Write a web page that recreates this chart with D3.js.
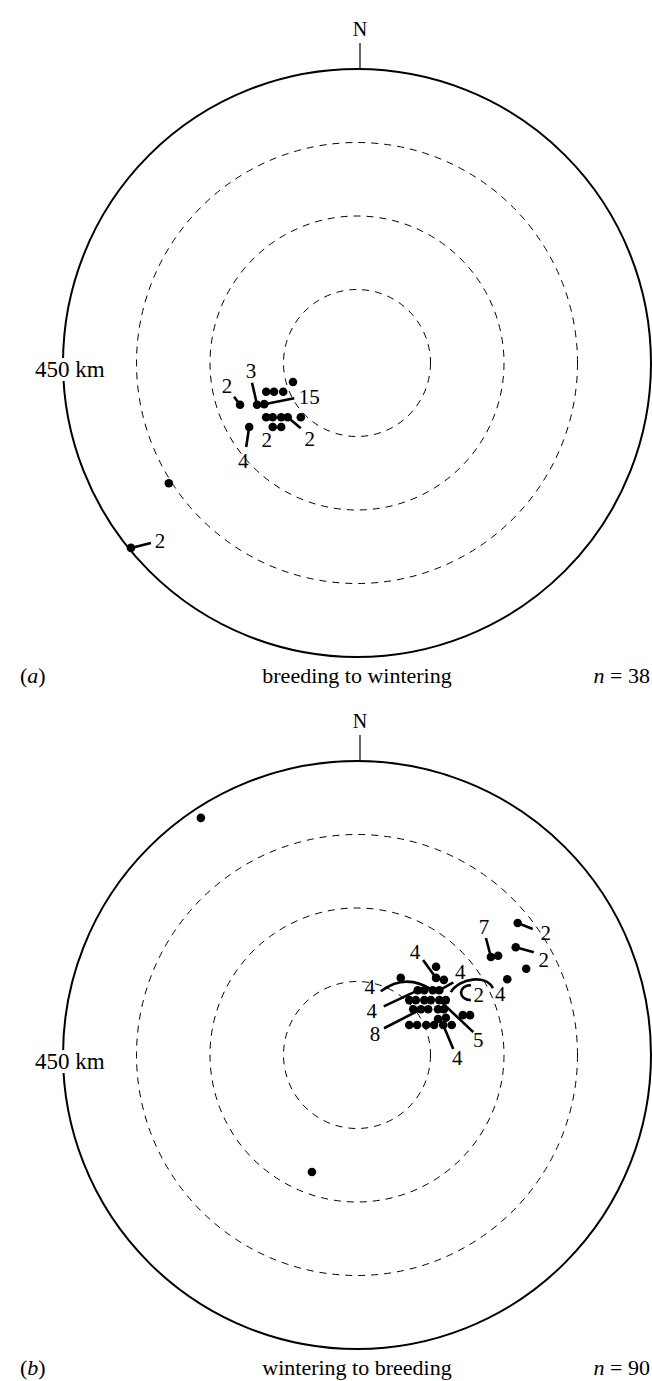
<!DOCTYPE html>
<html>
<head>
<meta charset="utf-8">
<script src="https://cdn.jsdelivr.net/npm/d3@7"></script>
<style>
  body { margin: 0; background: #fff; }
  svg text { font-family: "Liberation Serif", "DejaVu Serif", serif; fill: #000; }
</style>
</head>
<body>
<div id="chart"></div>
<script>
// radial distances (km) of the rings, outer ring is labelled
var ringKm = [112.5, 225, 337.5];
var outerKm = 450;

// (a) breeding to wintering : east / north displacement in km, count per dot
var eastA  = [-179, -153, -142, -139, -127, -113, -98, -139, -129, -116, -106, -86, -129, -116, -165, -288, -346];
var northA = [-64, -64, -63, -44, -44, -44, -29, -83, -83, -83, -83, -83, -98, -98, -98, -184, -283];
var countA = [2, 3, 15, 1, 1, 1, 1, 1, 1, 1, 2, 1, 2, 1, 4, 1, 2];

// (b) wintering to breeding
var eastB  = [-239, -69, 246, 243, 259, 230, 205, 216, 67, 121, 121, 133,
              93, 103, 116, 126,
              80, 90, 103, 113, 126, 136,
              86, 98, 109, 124, 133,
              162, 173, 124, 136,
              80, 92, 106, 118, 132, 145];
var northB = [363, -179, 202, 165, 132, 116, 150, 152, 118, 135, 118, 115,
              99, 99, 99, 99,
              84, 84, 84, 84, 84, 84,
              70, 70, 70, 70, 70,
              61, 61, 55, 57,
              46, 46, 46, 46, 46, 46];
var countB = [1, 1, 2, 2, 1, 4, 7, 1, 1, 1, 4, 1,
              4, 1, 4, 4,
              1, 1, 1, 1, 5, 2,
              1, 8, 1, 1, 1,
              1, 1, 1, 1,
              1, 1, 1, 1, 4, 1];

// label placement (pixel offsets from the dot) : [stickX, stickY, labelX, labelY]
var labelPosA = {
  0: [-6, -8, -13, -19], 1: [-5, -22, -6, -34], 2: [30, -6, 45, -7],
  10: [13, 11, 22, 22], 12: [0, 0, -6, 13], 14: [-3, 20, -6, 34], 16: [20, -5, 29, -7]
};
var labelPosB = {
  2: [15, 6, 28, 10], 3: [18, 5, 28, 13], 6: [-5, -19, -7, -30], 10: [-13, -18, -21, -26],
  15: [14, -8, 21, -18], 12: [-34, 16, -46, 21], 23: [-37, 19, -46, 25],
  20: [34, 32, 39, 40], 35: [10, 24, 14, 33], 5: [0, 0, -7, 15], 21: [0, 0, 33, -5], 14: [0, 0, -63, -3]
};

var W = 652, H = 1381, R = 294, cx = 357;

var svg = d3.select("#chart").append("svg")
  .attr("width", W).attr("height", H);

function panel(cy, east, north, counts, labelPos, letter, title, n, curved) {
  var x = d3.scaleLinear().domain([-outerKm, outerKm]).range([cx - R, cx + R]);
  var y = d3.scaleLinear().domain([-outerKm, outerKm]).range([cy + R, cy - R]);
  var r = function (km) { return x(km) - x(0); };

  var g = svg.append("g");

  g.selectAll(".ring").data(ringKm).enter().append("circle")
    .attr("class", "ring")
    .attr("cx", x(0)).attr("cy", y(0))
    .attr("r", function (d) { return r(d); })
    .attr("fill", "none").attr("stroke", "#000")
    .attr("stroke-width", 1).attr("stroke-dasharray", "7,6");

  g.append("circle")
    .attr("cx", x(0)).attr("cy", y(0)).attr("r", r(outerKm))
    .attr("fill", "none").attr("stroke", "#000").attr("stroke-width", 2);

  // north tick
  g.append("line")
    .attr("x1", x(0) + 3).attr("x2", x(0) + 3)
    .attr("y1", y(outerKm) - 26).attr("y2", y(outerKm))
    .attr("stroke", "#000").attr("stroke-width", 1.2);
  g.append("text")
    .attr("x", x(0) + 3).attr("y", y(outerKm) - 33)
    .attr("text-anchor", "middle").attr("font-size", 20).text("N");

  g.append("text")
    .attr("x", 35).attr("y", y(0) + 14)
    .attr("font-size", 23)
    .attr("stroke", "#fff").attr("stroke-width", 8).attr("paint-order", "stroke")
    .text(outerKm + " km");

  var pts = east.map(function (e, i) {
    return { px: x(e), py: y(north[i]), count: counts[i], i: i };
  });

  // sticks
  var lab = pts.filter(function (d) { return labelPos[d.i]; });
  g.selectAll(".stick").data(lab.filter(function (d) {
      var p = labelPos[d.i]; return p[0] || p[1];
    })).enter().append("line")
    .attr("x1", function (d) { return d.px; })
    .attr("y1", function (d) { return d.py; })
    .attr("x2", function (d) { return d.px + labelPos[d.i][0]; })
    .attr("y2", function (d) { return d.py + labelPos[d.i][1]; })
    .attr("stroke", "#000").attr("stroke-width", 2.6);

  if (curved) {
    var a = pts[14], b = pts[21];
    g.append("path")
      .attr("d", "M" + a.px + "," + a.py + " Q" + (a.px - 27) + "," + (a.py - 18) + " " + (a.px - 52) + "," + (a.py + 1))
      .attr("fill", "none").attr("stroke", "#000").attr("stroke-width", 2.6);
    g.append("path")
      .attr("d", "M" + (b.px + 5) + "," + (b.py - 8) + " C" + (b.px + 13) + "," + (b.py - 22) + " " +
        (b.px + 41) + "," + (b.py - 26) + " " + (b.px + 47) + "," + (b.py - 12))
      .attr("fill", "none").attr("stroke", "#000").attr("stroke-width", 2.6);
    g.append("path")
      .attr("d", "M" + (b.px + 25) + "," + (b.py - 15) + " C" + (b.px + 12) + "," + (b.py - 15) + " " +
        (b.px + 12) + "," + b.py + " " + (b.px + 25) + "," + b.py)
      .attr("fill", "none").attr("stroke", "#000").attr("stroke-width", 2.6);
  }

  g.selectAll(".dot").data(pts).enter().append("circle")
    .attr("class", "dot")
    .attr("cx", function (d) { return d.px; })
    .attr("cy", function (d) { return d.py; })
    .attr("r", 4.3).attr("fill", "#000");

  g.selectAll(".count").data(lab).enter().append("text")
    .attr("x", function (d) { return d.px + labelPos[d.i][2]; })
    .attr("y", function (d) { return d.py + labelPos[d.i][3] + 7; })
    .attr("text-anchor", "middle").attr("font-size", 21)
    .text(function (d) { return d.count; });

  var base = cy + 320;
  var t = g.append("text").attr("x", 20).attr("y", base).attr("font-size", 22);
  t.append("tspan").text("(");
  t.append("tspan").attr("font-style", "italic").text(letter);
  t.append("tspan").text(")");
  g.append("text").attr("x", cx).attr("y", base)
    .attr("text-anchor", "middle").attr("font-size", 22).text(title);
  var nt = g.append("text").attr("x", 650).attr("y", base)
    .attr("text-anchor", "end").attr("font-size", 22);
  nt.append("tspan").attr("font-style", "italic").text("n");
  nt.append("tspan").text(" = " + n);
}

panel(363, eastA, northA, countA, labelPosA, "a", "breeding to wintering", 38, false);
panel(1055, eastB, northB, countB, labelPosB, "b", "wintering to breeding", 90, true);
</script>
</body>
</html>
